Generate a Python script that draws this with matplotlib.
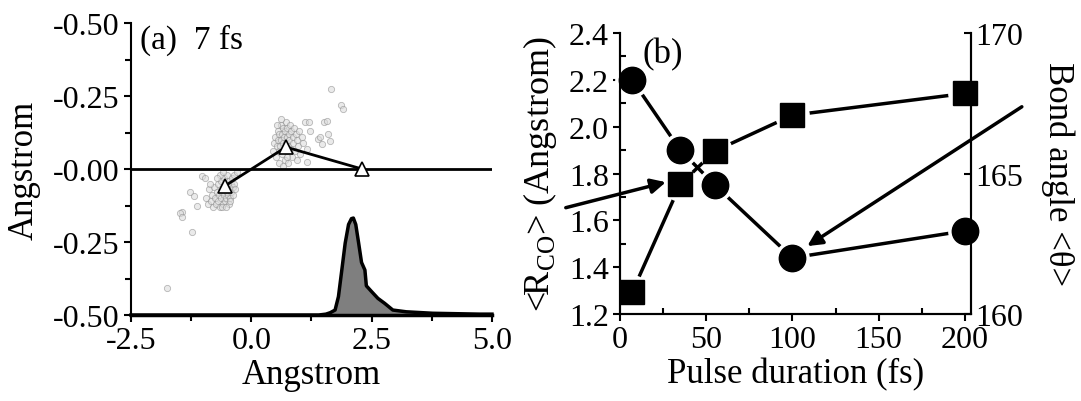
import numpy as np
import matplotlib
matplotlib.use("Agg")
import matplotlib.pyplot as plt
from matplotlib.ticker import MultipleLocator

plt.rcParams['font.family'] = ['Liberation Serif', 'DejaVu Serif']
plt.rcParams['mathtext.fontset'] = 'custom'
plt.rcParams['mathtext.rm'] = 'Liberation Serif'

# ---- panel (a): 7 fs snapshot ----
tri_x = [-0.55, 0.72, 2.30]
tri_y = [-0.058, 0.075, 0.0]

# scattered positions around the two atoms
c_x = [-0.95, -0.90, -0.88, -0.84, -0.82, -0.80, -0.78, -0.76, -0.74, -0.72,
       -0.70, -0.69, -0.67, -0.66, -0.64, -0.63, -0.62, -0.60, -0.59, -0.58,
       -0.57, -0.56, -0.55, -0.54, -0.53, -0.52, -0.51, -0.50, -0.49, -0.48,
       -0.47, -0.46, -0.45, -0.44, -0.43, -0.42, -0.40, -0.39, -0.38, -0.36,
       -0.35, -0.33, -0.30, -0.65, -0.71, -0.86, -0.61, -0.52, -0.45, -0.58,
       -1.03, -1.27, -1.20, -1.13, -0.97, -1.45, -1.49, -1.44, -1.24, -1.76]
c_y = [-0.10, -0.12, -0.07, -0.11, -0.09, -0.13, -0.06, -0.10, -0.12, -0.08,
       -0.05, -0.11, -0.09, -0.13, -0.07, -0.04, -0.10, -0.08, -0.12, -0.06,
       -0.03, -0.09, -0.11, -0.07, -0.05, -0.10, -0.08, -0.02, -0.06, -0.09,
       -0.12, -0.04, -0.07, -0.10, -0.05, -0.08, -0.03, -0.06, -0.09, -0.02,
       -0.05, -0.07, -0.01, -0.02, -0.03, -0.05, -0.13, -0.13, -0.11, -0.01,
       -0.023, -0.08, -0.091, -0.126, -0.03, -0.148, -0.15, -0.165, -0.215, -0.409]
o_x = [0.45, 0.48, 0.50, 0.52, 0.53, 0.55, 0.56, 0.57, 0.58, 0.60,
       0.61, 0.62, 0.63, 0.64, 0.65, 0.66, 0.67, 0.68, 0.69, 0.70,
       0.71, 0.72, 0.73, 0.74, 0.75, 0.76, 0.77, 0.78, 0.79, 0.80,
       0.82, 0.83, 0.84, 0.86, 0.87, 0.88, 0.90, 0.92, 0.94, 0.95,
       0.97, 0.99, 1.02, 1.05, 1.08, 1.12, 1.15, 1.19, 1.22, 0.58,
       0.66, 0.74, 0.62, 0.54,
       1.15, 1.39, 1.43, 1.46, 1.50, 1.57, 1.60, 1.64, 1.66, 1.87, 1.90]
o_y = [0.06, 0.09, 0.11, 0.04, 0.08, 0.13, 0.10, 0.06, 0.12, 0.08,
       0.15, 0.10, 0.05, 0.12, 0.09, 0.14, 0.07, 0.11, 0.03, 0.13,
       0.09, 0.16, 0.06, 0.11, 0.14, 0.08, 0.02, 0.12, 0.10, 0.15,
       0.07, 0.13, 0.04, 0.11, 0.09, 0.14, 0.06, 0.12, 0.03, 0.10,
       0.08, 0.13, 0.05, 0.11, 0.09, 0.16, 0.07, 0.16, 0.131, 0.02,
       0.01, 0.04, 0.17, 0.15,
       0.025, 0.103, 0.108, 0.085, 0.162, 0.163, 0.12, 0.097, 0.274, 0.22, 0.205]

# bond length distribution drawn along the bottom
hist_x = [-2.5, 1.40, 1.55, 1.64, 1.74, 1.81, 1.88, 1.95, 2.02, 2.08, 2.12,
          2.17, 2.23, 2.29, 2.36, 2.39, 2.50, 2.63, 2.77, 2.94, 3.22, 3.77, 4.74, 5.0]
hist_y = [-0.5, -0.5, -0.497, -0.492, -0.483, -0.437, -0.346, -0.254, -0.19, -0.17, -0.168,
          -0.19, -0.254, -0.32, -0.346, -0.40, -0.42, -0.443, -0.46, -0.483, -0.489, -0.494, -0.497, -0.497]

# ---- panel (b) ----
pulse = [7, 35, 55, 100, 200]
r_co = [1.292, 1.754, 1.896, 2.049, 2.142]
angle = [168.34, 165.83, 164.59, 162.0, 162.96]

fig = plt.figure(figsize=(10.81, 4.02), dpi=100)

ax = fig.add_axes([0.1212, 0.2139, 0.3339, 0.7264])
ax.fill_between(hist_x, -0.5, hist_y, color='#7f7f7f', lw=0)
ax.plot(hist_x, hist_y, color='black', lw=2.5, clip_on=False)
ax.plot(c_x, c_y, 'o', ms=4.5, mfc='#dcdcdc', mec='#8c8c8c', mew=0.6, alpha=0.6)
ax.plot(o_x, o_y, 'o', ms=4.5, mfc='#dcdcdc', mec='#8c8c8c', mew=0.6, alpha=0.6)
ax.axhline(0, color='black', lw=2)
ax.plot(tri_x, tri_y, color='black', lw=2)
ax.plot(tri_x, tri_y, '^', ms=10, mfc='white', mec='black', mew=1.2, lw=0)
ax.set_xlim(-2.5, 5.0)
ax.set_ylim(-0.5, 0.5)
ax.set_xticks([-2.5, 0.0, 2.5, 5.0])
ax.set_xticklabels(['-2.5', '0.0', '2.5', '5.0'])
ax.xaxis.set_minor_locator(MultipleLocator(1.25))
ax.set_yticks([-0.5, -0.25, 0, 0.25, 0.5])
ax.set_yticklabels(['-0.50', '-0.25', '-0.00', '-0.25', '-0.50'])
ax.yaxis.set_minor_locator(MultipleLocator(0.125))
ax.spines['top'].set_visible(False)
ax.spines['right'].set_visible(False)
ax.spines['left'].set_linewidth(1.5)
ax.spines['bottom'].set_linewidth(2.5)
ax.tick_params(labelsize=23, width=1.5, length=5, direction='out', pad=3)
ax.tick_params(which='minor', width=1.5, length=4, direction='out')
ax.set_xlabel('Angstrom', fontsize=25, labelpad=2)
ax.set_ylabel('Angstrom', fontsize=25)
ax.yaxis.set_label_coords(-0.25, 0.5)
ax.text(0.025, 0.945, '(a)  7 fs', transform=ax.transAxes, fontsize=24, va='center')

# ---- panel (b) ----
bx = fig.add_axes([0.5735, 0.2164, 0.3247, 0.699])
bx2 = bx.twinx()

bx.plot(pulse, r_co, color='black', lw=2.5, zorder=1)
bx.plot(pulse, r_co, 'o', ms=25, mfc='white', mec='none', zorder=2, clip_on=False)
bx.plot(pulse, r_co, 's', ms=17, color='black', zorder=3, clip_on=False)

bx2.plot(pulse, angle, color='black', lw=2.5, zorder=1)
bx2.plot(pulse, angle, 'o', ms=25, mfc='white', mec='none', zorder=2, clip_on=False)
bx2.plot(pulse, angle, 'o', ms=19, color='black', zorder=3, clip_on=False)

bx.set_xlim(0, 203.5)
bx.set_ylim(1.2, 2.4)
bx2.set_ylim(160, 170)
bx.set_xticks([0, 50, 100, 150, 200])
bx.xaxis.set_minor_locator(MultipleLocator(25))
bx.set_yticks([1.2, 1.4, 1.6, 1.8, 2.0, 2.2, 2.4])
bx.yaxis.set_minor_locator(MultipleLocator(0.1))
bx2.set_yticks([160, 165, 170])
bx2.yaxis.set_minor_locator(MultipleLocator(2.5))
for a in (bx, bx2):
    a.spines['top'].set_visible(False)
    for s in ('left', 'right', 'bottom'):
        a.spines[s].set_linewidth(1.5)
bx.tick_params(labelsize=23, width=1.5, length=5, direction='out', pad=3)
bx.tick_params(which='minor', width=1.5, length=4, direction='in')
bx2.tick_params(labelsize=23, width=1.5, length=5, direction='in', pad=3)
bx2.tick_params(which='minor', width=1.5, length=4, direction='in')
bx.set_xlabel('Pulse duration (fs)', fontsize=25, labelpad=2)
bx.set_ylabel(r'<R$_{\mathrm{CO}}$> (Angstrom)', fontsize=26)
bx.yaxis.set_label_coords(-0.175, 0.5)
bx2.set_ylabel('Bond angle <θ>', fontsize=25, rotation=270, va='bottom')
bx2.yaxis.set_label_coords(1.2, 0.5)
bx.text(0.065, 0.925, '(b)', transform=bx.transAxes, fontsize=25, va='center')

arrow = dict(arrowstyle='-|>', color='black', lw=2.5, mutation_scale=22, shrinkA=0, shrinkB=0)
bx2.annotate('', xy=(26.6, 1.763), xycoords=bx.transData,
             xytext=(-31.4, 1.654), textcoords=bx.transData,
             arrowprops=arrow, annotation_clip=False)
bx2.annotate('', xy=(108.6, 1.49), xycoords=bx.transData,
             xytext=(233, 2.085), textcoords=bx.transData,
             arrowprops=arrow, annotation_clip=False)

fig.savefig('out.png', dpi=100)
